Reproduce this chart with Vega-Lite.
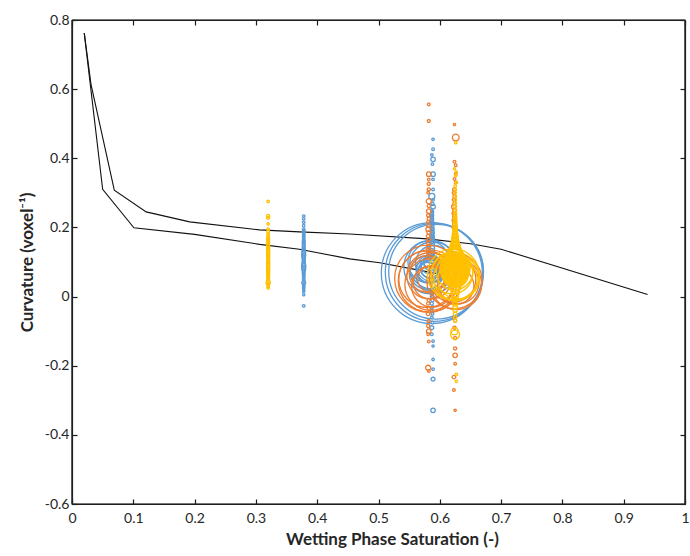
{
  "$schema": "https://vega.github.io/schema/vega-lite/v6.json",
  "width": 613,
  "height": 484,
  "autosize": {"type": "none"},
  "padding": {"left": 72, "top": 20, "right": 5, "bottom": 52},
  "background": "white",
  "config": {
    "view": {"stroke": "#262626", "strokeWidth": 1.2},
    "axis": {
      "grid": false,
      "domainColor": "#1a1a1a",
      "tickColor": "#1a1a1a",
      "labelColor": "#262626",
      "titleColor": "#262626",
      "labelFont": "Lato",
      "titleFont": "Lato",
      "labelFontSize": 14,
      "titleFontSize": 17,
      "titleFontWeight": "bold",
      "tickSize": -5,
      "domainWidth": 1.2,
      "tickWidth": 1.2,
      "labelFlush": false
    }
  },
  "datasets": {
    "frame": [{"b": 0, "w": -0.6}, {"b": 1, "w": 0.8}],
    "lines": [
      {"c":"U","x":0.02,"y":0.762},{"c":"U","x":0.031,"y":0.614},{"c":"U","x":0.069,"y":0.308},{"c":"U","x":0.121,"y":0.245},{"c":"U","x":0.192,"y":0.216},{"c":"U","x":0.306,"y":0.193},{"c":"U","x":0.371,"y":0.187},{"c":"U","x":0.453,"y":0.181},{"c":"U","x":0.58,"y":0.167},{"c":"U","x":0.65,"y":0.153},{"c":"U","x":0.7,"y":0.137},{"c":"U","x":0.939,"y":0.006},
      {"c":"L","x":0.02,"y":0.762},{"c":"L","x":0.05,"y":0.31},{"c":"L","x":0.101,"y":0.199},{"c":"L","x":0.2,"y":0.18},{"c":"L","x":0.306,"y":0.151},{"c":"L","x":0.371,"y":0.137},{"c":"L","x":0.453,"y":0.109},{"c":"L","x":0.502,"y":0.098},{"c":"L","x":0.555,"y":0.08},{"c":"L","x":0.6,"y":0.065}
    ],
    "pts": [
      {"s":"B","x":0.378,"y":0.233,"v":0.06},{"s":"B","x":0.378,"y":0.225,"v":0.06},{"s":"B","x":0.378,"y":0.215,"v":0.06},{"s":"B","x":0.378,"y":0.205,"v":0.06},{"s":"B","x":0.378,"y":0.195,"v":0.07},{"s":"B","x":0.378,"y":0.19,"v":0.07},{"s":"B","x":0.378,"y":0.185,"v":0.07},{"s":"B","x":0.378,"y":0.18,"v":0.07},{"s":"B","x":0.378,"y":0.175,"v":0.07},{"s":"B","x":0.378,"y":0.17,"v":0.07},{"s":"B","x":0.378,"y":0.165,"v":0.07},{"s":"B","x":0.378,"y":0.16,"v":0.09},{"s":"B","x":0.378,"y":0.155,"v":0.09},{"s":"B","x":0.378,"y":0.15,"v":0.09},{"s":"B","x":0.378,"y":0.145,"v":0.09},{"s":"B","x":0.378,"y":0.14,"v":0.1},{"s":"B","x":0.378,"y":0.135,"v":0.11},{"s":"B","x":0.378,"y":0.13,"v":0.13},{"s":"B","x":0.378,"y":0.125,"v":0.16},{"s":"B","x":0.378,"y":0.12,"v":0.16},{"s":"B","x":0.378,"y":0.115,"v":0.13},{"s":"B","x":0.378,"y":0.11,"v":0.11},{"s":"B","x":0.378,"y":0.105,"v":0.1},{"s":"B","x":0.378,"y":0.1,"v":0.1},{"s":"B","x":0.378,"y":0.095,"v":0.13},{"s":"B","x":0.378,"y":0.09,"v":0.16},{"s":"B","x":0.378,"y":0.085,"v":0.16},{"s":"B","x":0.378,"y":0.08,"v":0.15},{"s":"B","x":0.378,"y":0.075,"v":0.1},{"s":"B","x":0.378,"y":0.07,"v":0.09},{"s":"B","x":0.378,"y":0.065,"v":0.09},{"s":"B","x":0.378,"y":0.06,"v":0.07},{"s":"B","x":0.378,"y":0.055,"v":0.07},{"s":"B","x":0.378,"y":0.05,"v":0.07},{"s":"B","x":0.378,"y":0.045,"v":0.07},{"s":"B","x":0.378,"y":0.04,"v":0.15},{"s":"B","x":0.378,"y":0.035,"v":0.06},{"s":"B","x":0.378,"y":0.03,"v":0.06},{"s":"B","x":0.378,"y":0.025,"v":0.06},{"s":"B","x":0.378,"y":0.02,"v":0.05},{"s":"B","x":0.378,"y":0.015,"v":0.05},{"s":"B","x":0.378,"y":0.005,"v":0.05},{"s":"B","x":0.378,"y":-0.027,"v":0.06},

      {"s":"B","x":0.587,"y":0.068,"v":100},{"s":"B","x":0.591,"y":0.07,"v":94},{"s":"B","x":0.594,"y":0.072,"v":88},
      {"s":"B","x":0.585,"y":0.085,"v":28},{"s":"B","x":0.589,"y":0.09,"v":22},{"s":"B","x":0.582,"y":0.1,"v":17},{"s":"B","x":0.59,"y":0.095,"v":13},{"s":"B","x":0.579,"y":0.07,"v":11},{"s":"B","x":0.586,"y":0.06,"v":9},{"s":"B","x":0.584,"y":0.08,"v":7.5},{"s":"B","x":0.582,"y":0.075,"v":6},{"s":"B","x":0.586,"y":0.085,"v":5},{"s":"B","x":0.58,"y":0.07,"v":4},{"s":"B","x":0.584,"y":0.08,"v":3.2},{"s":"B","x":0.582,"y":0.09,"v":2.5},{"s":"B","x":0.585,"y":0.095,"v":1.8},{"s":"B","x":0.583,"y":0.1,"v":1.3},{"s":"B","x":0.586,"y":0.11,"v":0.9},{"s":"B","x":0.585,"y":0.12,"v":0.6},{"s":"B","x":0.586,"y":0.13,"v":0.4},{"s":"B","x":0.587,"y":0.14,"v":0.3},
      {"s":"B","x":0.587,"y":0.25,"v":0.07},{"s":"B","x":0.588,"y":0.245,"v":0.07},{"s":"B","x":0.587,"y":0.24,"v":0.1},{"s":"B","x":0.588,"y":0.235,"v":0.07},{"s":"B","x":0.587,"y":0.23,"v":0.1},{"s":"B","x":0.588,"y":0.225,"v":0.07},{"s":"B","x":0.587,"y":0.22,"v":0.1},{"s":"B","x":0.588,"y":0.215,"v":0.1},{"s":"B","x":0.587,"y":0.21,"v":0.1},{"s":"B","x":0.588,"y":0.205,"v":0.1},{"s":"B","x":0.587,"y":0.2,"v":0.13},{"s":"B","x":0.588,"y":0.195,"v":0.13},{"s":"B","x":0.587,"y":0.19,"v":0.13},{"s":"B","x":0.588,"y":0.185,"v":0.15},{"s":"B","x":0.587,"y":0.18,"v":0.15},{"s":"B","x":0.588,"y":0.175,"v":0.15},{"s":"B","x":0.587,"y":0.17,"v":0.18},{"s":"B","x":0.588,"y":0.165,"v":0.18},{"s":"B","x":0.587,"y":0.16,"v":0.2},{"s":"B","x":0.588,"y":0.155,"v":0.2},
      {"s":"B","x":0.589,"y":0.455,"v":0.06},{"s":"B","x":0.589,"y":0.426,"v":0.07},{"s":"B","x":0.587,"y":0.41,"v":0.06},{"s":"B","x":0.589,"y":0.397,"v":0.2},{"s":"B","x":0.588,"y":0.383,"v":0.06},{"s":"B","x":0.589,"y":0.354,"v":0.2},{"s":"B","x":0.589,"y":0.339,"v":0.07},{"s":"B","x":0.589,"y":0.31,"v":0.07},{"s":"B","x":0.587,"y":0.29,"v":0.35},{"s":"B","x":0.589,"y":0.28,"v":0.07},{"s":"B","x":0.588,"y":0.268,"v":0.1},{"s":"B","x":0.589,"y":0.26,"v":0.2},
      {"s":"B","x":0.587,"y":0.02,"v":0.1},{"s":"B","x":0.587,"y":0.01,"v":0.1},{"s":"B","x":0.587,"y":0.0,"v":0.1},{"s":"B","x":0.588,"y":-0.01,"v":0.1},{"s":"B","x":0.587,"y":-0.02,"v":0.1},{"s":"B","x":0.588,"y":-0.03,"v":0.07},{"s":"B","x":0.587,"y":-0.04,"v":0.07},{"s":"B","x":0.588,"y":-0.05,"v":0.07},{"s":"B","x":0.587,"y":-0.06,"v":0.07},{"s":"B","x":0.588,"y":-0.075,"v":0.07},{"s":"B","x":0.587,"y":-0.09,"v":0.15},{"s":"B","x":0.587,"y":-0.109,"v":0.07},{"s":"B","x":0.589,"y":-0.129,"v":0.06},{"s":"B","x":0.589,"y":-0.143,"v":0.05},{"s":"B","x":0.589,"y":-0.182,"v":0.06},{"s":"B","x":0.589,"y":-0.21,"v":0.06},{"s":"B","x":0.589,"y":-0.239,"v":0.15},{"s":"B","x":0.589,"y":-0.329,"v":0.2},

      {"s":"O","x":0.581,"y":0.052,"v":44},{"s":"O","x":0.583,"y":0.045,"v":38},{"s":"O","x":0.579,"y":0.05,"v":31},{"s":"O","x":0.585,"y":0.035,"v":26},{"s":"O","x":0.584,"y":0.06,"v":21},{"s":"O","x":0.588,"y":0.03,"v":17},{"s":"O","x":0.58,"y":0.065,"v":13},{"s":"O","x":0.583,"y":0.04,"v":10},{"s":"O","x":0.586,"y":0.05,"v":7},
      {"s":"O","x":0.624,"y":0.045,"v":30},{"s":"O","x":0.627,"y":0.035,"v":25},{"s":"O","x":0.621,"y":0.05,"v":21},{"s":"O","x":0.63,"y":0.04,"v":17},{"s":"O","x":0.626,"y":0.03,"v":13},
      {"s":"O","x":0.582,"y":0.556,"v":0.08},{"s":"O","x":0.582,"y":0.508,"v":0.08},{"s":"O","x":0.582,"y":0.354,"v":0.2},{"s":"O","x":0.582,"y":0.339,"v":0.07},{"s":"O","x":0.582,"y":0.326,"v":0.1},{"s":"O","x":0.582,"y":0.31,"v":0.1},{"s":"O","x":0.581,"y":0.3,"v":0.07},{"s":"O","x":0.582,"y":0.276,"v":0.25},{"s":"O","x":0.582,"y":0.262,"v":0.1},{"s":"O","x":0.582,"y":0.247,"v":0.2},{"s":"O","x":0.581,"y":0.235,"v":0.1},{"s":"O","x":0.582,"y":0.225,"v":0.1},{"s":"O","x":0.581,"y":0.215,"v":0.1},{"s":"O","x":0.582,"y":0.205,"v":0.13},{"s":"O","x":0.581,"y":0.195,"v":0.2},{"s":"O","x":0.582,"y":0.185,"v":0.13},{"s":"O","x":0.581,"y":0.175,"v":0.13},{"s":"O","x":0.582,"y":0.165,"v":0.13},{"s":"O","x":0.581,"y":0.155,"v":0.13},{"s":"O","x":0.582,"y":0.145,"v":0.15},{"s":"O","x":0.581,"y":0.135,"v":0.15},{"s":"O","x":0.582,"y":0.125,"v":0.15},{"s":"O","x":0.581,"y":0.115,"v":0.15},
      {"s":"O","x":0.582,"y":-0.01,"v":0.1},{"s":"O","x":0.581,"y":-0.02,"v":0.1},{"s":"O","x":0.582,"y":-0.035,"v":0.1},{"s":"O","x":0.581,"y":-0.05,"v":0.13},{"s":"O","x":0.582,"y":-0.071,"v":0.1},{"s":"O","x":0.581,"y":-0.085,"v":0.1},{"s":"O","x":0.582,"y":-0.1,"v":0.2},{"s":"O","x":0.581,"y":-0.109,"v":0.07},{"s":"O","x":0.582,"y":-0.13,"v":0.07},{"s":"O","x":0.581,"y":-0.206,"v":0.25},{"s":"O","x":0.582,"y":-0.215,"v":0.07},
      {"s":"O","x":0.624,"y":0.498,"v":0.05},{"s":"O","x":0.626,"y":0.46,"v":0.45},{"s":"O","x":0.624,"y":0.39,"v":0.07},{"s":"O","x":0.626,"y":0.38,"v":0.07},{"s":"O","x":0.626,"y":0.355,"v":0.07},{"s":"O","x":0.624,"y":0.34,"v":0.07},{"s":"O","x":0.626,"y":0.33,"v":0.07},{"s":"O","x":0.624,"y":0.31,"v":0.13},{"s":"O","x":0.623,"y":0.3,"v":0.1},{"s":"O","x":0.624,"y":0.29,"v":0.1},{"s":"O","x":0.623,"y":0.28,"v":0.1},{"s":"O","x":0.624,"y":0.27,"v":0.1},{"s":"O","x":0.623,"y":0.26,"v":0.2},{"s":"O","x":0.624,"y":0.25,"v":0.13},{"s":"O","x":0.623,"y":0.24,"v":0.13},{"s":"O","x":0.624,"y":0.23,"v":0.13},{"s":"O","x":0.623,"y":0.22,"v":0.13},{"s":"O","x":0.624,"y":0.21,"v":0.13},{"s":"O","x":0.623,"y":0.2,"v":0.13},
      {"s":"O","x":0.624,"y":-0.06,"v":0.1},{"s":"O","x":0.625,"y":-0.07,"v":0.1},{"s":"O","x":0.624,"y":-0.09,"v":0.1},{"s":"O","x":0.625,"y":-0.12,"v":0.1},{"s":"O","x":0.625,"y":-0.15,"v":0.1},{"s":"O","x":0.625,"y":-0.17,"v":0.2},{"s":"O","x":0.625,"y":-0.194,"v":0.07},{"s":"O","x":0.623,"y":-0.233,"v":0.13},{"s":"O","x":0.623,"y":-0.27,"v":0.07},{"s":"O","x":0.625,"y":-0.329,"v":0.05},

      {"s":"Y","x":0.32,"y":0.275,"v":0.06},{"s":"Y","x":0.32,"y":0.233,"v":0.1},{"s":"Y","x":0.32,"y":0.228,"v":0.1},{"s":"Y","x":0.32,"y":0.21,"v":0.06},{"s":"Y","x":0.32,"y":0.195,"v":0.06},{"s":"Y","x":0.32,"y":0.188,"v":0.07},{"s":"Y","x":0.32,"y":0.182,"v":0.07},{"s":"Y","x":0.32,"y":0.176,"v":0.07},{"s":"Y","x":0.32,"y":0.17,"v":0.09},{"s":"Y","x":0.32,"y":0.165,"v":0.09},{"s":"Y","x":0.32,"y":0.16,"v":0.09},{"s":"Y","x":0.32,"y":0.155,"v":0.09},{"s":"Y","x":0.32,"y":0.15,"v":0.1},{"s":"Y","x":0.32,"y":0.145,"v":0.1},{"s":"Y","x":0.32,"y":0.14,"v":0.1},{"s":"Y","x":0.32,"y":0.135,"v":0.11},{"s":"Y","x":0.32,"y":0.13,"v":0.11},{"s":"Y","x":0.32,"y":0.125,"v":0.11},{"s":"Y","x":0.32,"y":0.12,"v":0.11},{"s":"Y","x":0.32,"y":0.115,"v":0.1},{"s":"Y","x":0.32,"y":0.11,"v":0.1},{"s":"Y","x":0.32,"y":0.105,"v":0.1},{"s":"Y","x":0.32,"y":0.1,"v":0.11},{"s":"Y","x":0.32,"y":0.095,"v":0.11},{"s":"Y","x":0.32,"y":0.09,"v":0.11},{"s":"Y","x":0.32,"y":0.085,"v":0.1},{"s":"Y","x":0.32,"y":0.08,"v":0.1},{"s":"Y","x":0.32,"y":0.075,"v":0.1},{"s":"Y","x":0.32,"y":0.07,"v":0.1},{"s":"Y","x":0.32,"y":0.065,"v":0.1},{"s":"Y","x":0.32,"y":0.06,"v":0.09},{"s":"Y","x":0.32,"y":0.055,"v":0.09},{"s":"Y","x":0.32,"y":0.05,"v":0.09},{"s":"Y","x":0.32,"y":0.045,"v":0.1},{"s":"Y","x":0.32,"y":0.04,"v":0.18},{"s":"Y","x":0.32,"y":0.035,"v":0.07},{"s":"Y","x":0.32,"y":0.03,"v":0.06},{"s":"Y","x":0.32,"y":0.025,"v":0.06},

      {"s":"Y","x":0.622,"y":0.064,"v":26},{"s":"Y","x":0.625,"y":0.058,"v":23},{"s":"Y","x":0.627,"y":0.054,"v":20},{"s":"Y","x":0.62,"y":0.068,"v":17},{"s":"Y","x":0.629,"y":0.05,"v":15},{"s":"Y","x":0.624,"y":0.072,"v":13},
      {"s":"Y","x":0.625,"y":0.08,"v":8.9},{"s":"Y","x":0.625,"y":0.08,"v":7.88},{"s":"Y","x":0.625,"y":0.08,"v":6.93},{"s":"Y","x":0.625,"y":0.08,"v":6.03},{"s":"Y","x":0.625,"y":0.08,"v":5.2},{"s":"Y","x":0.625,"y":0.08,"v":4.43},{"s":"Y","x":0.625,"y":0.08,"v":3.72},{"s":"Y","x":0.625,"y":0.08,"v":3.08},{"s":"Y","x":0.625,"y":0.08,"v":2.49},{"s":"Y","x":0.625,"y":0.08,"v":1.97},{"s":"Y","x":0.625,"y":0.08,"v":1.51},{"s":"Y","x":0.625,"y":0.08,"v":1.11},{"s":"Y","x":0.625,"y":0.08,"v":0.77},{"s":"Y","x":0.625,"y":0.08,"v":0.49},{"s":"Y","x":0.625,"y":0.08,"v":0.28},{"s":"Y","x":0.625,"y":0.08,"v":0.12},{"s":"Y","x":0.625,"y":0.08,"v":0.03},
      {"s":"Y","x":0.625,"y":0.065,"v":6.93},{"s":"Y","x":0.625,"y":0.065,"v":6.03},{"s":"Y","x":0.625,"y":0.065,"v":5.2},{"s":"Y","x":0.625,"y":0.065,"v":4.43},{"s":"Y","x":0.625,"y":0.065,"v":3.72},{"s":"Y","x":0.625,"y":0.065,"v":3.08},
      {"s":"Y","x":0.625,"y":0.32,"v":0.07},{"s":"Y","x":0.625,"y":0.31,"v":0.07},{"s":"Y","x":0.625,"y":0.3,"v":0.07},{"s":"Y","x":0.625,"y":0.29,"v":0.09},{"s":"Y","x":0.625,"y":0.28,"v":0.09},{"s":"Y","x":0.625,"y":0.27,"v":0.09},{"s":"Y","x":0.625,"y":0.26,"v":0.09},{"s":"Y","x":0.625,"y":0.25,"v":0.1},{"s":"Y","x":0.625,"y":0.24,"v":0.1},{"s":"Y","x":0.625,"y":0.235,"v":0.1},{"s":"Y","x":0.625,"y":0.23,"v":0.12},{"s":"Y","x":0.625,"y":0.225,"v":0.12},{"s":"Y","x":0.625,"y":0.22,"v":0.12},{"s":"Y","x":0.625,"y":0.215,"v":0.14},{"s":"Y","x":0.625,"y":0.21,"v":0.14},{"s":"Y","x":0.625,"y":0.205,"v":0.16},{"s":"Y","x":0.625,"y":0.2,"v":0.18},{"s":"Y","x":0.625,"y":0.195,"v":0.2},{"s":"Y","x":0.625,"y":0.19,"v":0.22},{"s":"Y","x":0.625,"y":0.185,"v":0.25},{"s":"Y","x":0.625,"y":0.18,"v":0.3},{"s":"Y","x":0.625,"y":0.175,"v":0.35},{"s":"Y","x":0.625,"y":0.17,"v":0.4},{"s":"Y","x":0.625,"y":0.165,"v":0.45},{"s":"Y","x":0.625,"y":0.16,"v":0.55},{"s":"Y","x":0.625,"y":0.155,"v":0.65},{"s":"Y","x":0.625,"y":0.15,"v":0.8},{"s":"Y","x":0.625,"y":0.145,"v":1.0},{"s":"Y","x":0.625,"y":0.14,"v":1.2},{"s":"Y","x":0.625,"y":0.135,"v":1.4},{"s":"Y","x":0.625,"y":0.13,"v":1.7},{"s":"Y","x":0.625,"y":0.125,"v":2.0},{"s":"Y","x":0.625,"y":0.12,"v":2.5},{"s":"Y","x":0.625,"y":0.115,"v":3.0},{"s":"Y","x":0.625,"y":0.11,"v":3.6},
      {"s":"Y","x":0.626,"y":0.445,"v":0.06},{"s":"Y","x":0.624,"y":0.37,"v":0.05},{"s":"Y","x":0.627,"y":0.36,"v":0.05},{"s":"Y","x":0.626,"y":0.35,"v":0.06},{"s":"Y","x":0.627,"y":0.33,"v":0.07},
      {"s":"Y","x":0.625,"y":0.04,"v":2.0},{"s":"Y","x":0.625,"y":0.03,"v":1.2},{"s":"Y","x":0.625,"y":0.02,"v":0.8},{"s":"Y","x":0.625,"y":0.01,"v":0.6},{"s":"Y","x":0.625,"y":0.0,"v":0.45},{"s":"Y","x":0.625,"y":-0.01,"v":0.3},{"s":"Y","x":0.625,"y":-0.02,"v":0.25},{"s":"Y","x":0.625,"y":-0.03,"v":0.2},{"s":"Y","x":0.625,"y":-0.04,"v":0.15},{"s":"Y","x":0.625,"y":-0.05,"v":0.12},{"s":"Y","x":0.625,"y":-0.06,"v":0.1},{"s":"Y","x":0.625,"y":-0.07,"v":0.1},{"s":"Y","x":0.624,"y":-0.1,"v":0.5},{"s":"Y","x":0.625,"y":-0.11,"v":0.8},{"s":"Y","x":0.627,"y":-0.225,"v":0.06},{"s":"Y","x":0.627,"y":-0.245,"v":0.06}
    ]
  },
  "layer": [
    {
      "mark": {"type": "rule", "color": "#262626", "strokeWidth": 1},
      "encoding": {
        "y": {"datum": 0, "type": "quantitative", "scale": {"domain": [-0.6, 0.8], "nice": false}, "axis": null}
      }
    },
    {
      "data": {"name": "frame"},
      "mark": {"type": "rule", "color": "#262626", "strokeWidth": 1.2},
      "encoding": {
        "x": {"field": "b", "type": "quantitative", "scale": {"domain": [0, 1], "nice": false}, "axis": null}
      }
    },
    {
      "data": {"name": "frame"},
      "mark": {"type": "rule", "color": "#262626", "strokeWidth": 1.2},
      "encoding": {
        "y": {"field": "w", "type": "quantitative", "scale": {"domain": [-0.6, 0.8], "nice": false}, "axis": null}
      }
    },
    {
      "data": {"name": "lines"},
      "mark": {"type": "line", "color": "#111111", "strokeWidth": 1.1},
      "encoding": {
        "x": {"field": "x", "type": "quantitative", "scale": {"domain": [0, 1], "nice": false},
          "axis": {"orient": "bottom", "values": [0,0.1,0.2,0.3,0.4,0.5,0.6,0.7,0.8,0.9,1], "title": "Wetting Phase Saturation (-)", "labelPadding": 12, "titlePadding": 6, "titleX": 320,
            "labelExpr": "datum.value == 0 ? '0' : datum.value == 1 ? '1' : format(datum.value, '.1f')"}},
        "y": {"field": "y", "type": "quantitative", "scale": {"domain": [-0.6, 0.8], "nice": false},
          "axis": {"orient": "left", "values": [-0.6,-0.4,-0.2,0,0.2,0.4,0.6,0.8], "title": "Curvature (voxel⁻¹)", "labelPadding": 8, "titlePadding": 8,
            "labelExpr": "datum.value == 0 ? '0' : (datum.value < 0 ? '-' : '') + format(abs(datum.value), '.1f')"}},
        "detail": {"field": "c", "type": "nominal"}
      }
    },
    {
      "data": {"name": "pts"},
      "mark": {"type": "point", "shape": "circle", "filled": false, "strokeWidth": 1.3, "opacity": 1},
      "encoding": {
        "x": {"field": "x", "type": "quantitative", "scale": {"domain": [0, 1], "nice": false},
          "axis": {"orient": "top", "values": [0,0.1,0.2,0.3,0.4,0.5,0.6,0.7,0.8,0.9,1], "labels": false, "title": null}},
        "y": {"field": "y", "type": "quantitative", "scale": {"domain": [-0.6, 0.8], "nice": false},
          "axis": {"orient": "right", "values": [-0.6,-0.4,-0.2,0,0.2,0.4,0.6,0.8], "labels": false, "title": null}},
        "color": {"field": "s", "type": "nominal", "scale": {"domain": ["B","O","Y"], "range": ["#5B9BD5","#ED7D31","#FFC000"]}, "legend": null},
        "size": {"field": "v", "type": "quantitative", "scale": {"type": "linear", "domain": [0, 100], "range": [0, 10200], "zero": true}, "legend": null}
      }
    }
  ],
  "resolve": {"axis": {"x": "independent", "y": "independent"}}
}
